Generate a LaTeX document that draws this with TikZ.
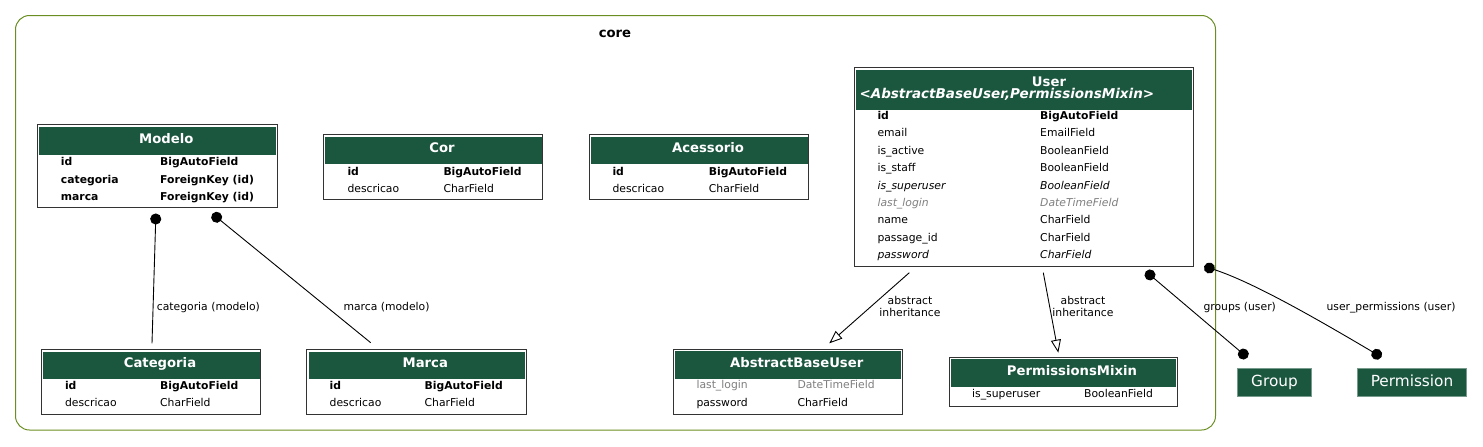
\documentclass[tikz,border=0pt]{standalone}
\usepackage{fontspec}
\setmainfont{DejaVu Sans}[ItalicFont={DejaVu Sans Oblique}, BoldFont={DejaVu Sans Bold}, BoldItalicFont={DejaVu Sans Bold Oblique}]
\usetikzlibrary{arrows.meta}

\definecolor{headgreen}{HTML}{1B563F}
\definecolor{clustergreen}{HTML}{6B8E23}
\definecolor{fieldgray}{HTML}{7F7F7F}

\begin{document}
\begin{tikzpicture}[x=1pt, y=-1pt,
    tablebox/.style={draw=black!80, line width=1pt, fill=white, inner sep=0pt},
    headbox/.style={fill=headgreen, inner sep=0pt},
    titletext/.style={text=white, font=\fontsize{13.2}{15}\selectfont\bfseries, anchor=base, inner sep=0pt},
    fieldtext/.style={font=\fontsize{10.8}{13}\selectfont, anchor=base west, inner sep=0pt},
    edgelabel/.style={font=\fontsize{10.8}{12}\selectfont, inner sep=0pt},
    link/.style={line width=0.9pt}]
\useasboundingbox (0,0) rectangle (1483,447);

% core cluster
\draw[clustergreen, line width=1pt, rounded corners=14pt] (15.5,15.5) rectangle (1215.5,430);
\node[titletext, text=black] (core) at (615,37) {core};

\begin{scope}[every node/.style={tablebox}]
    \node[minimum width=240pt, minimum height=82.6pt] (modelo) at (157.3,166) {};
    \node[minimum width=219.4pt, minimum height=64.6pt] (cor) at (433,167) {};
    \node[minimum width=219.4pt, minimum height=64.6pt] (acessorio) at (699,167) {};
    \node[minimum width=339.3pt, minimum height=198.7pt] (user) at (1023.7,166.7) {};
    \node[minimum width=219.4pt, minimum height=64.7pt] (categoria) at (151,382.3) {};
    \node[minimum width=219.4pt, minimum height=64.7pt] (marca) at (416.3,382.3) {};
    \node[minimum width=228.7pt, minimum height=64.7pt] (abstractbaseuser) at (787.7,381.7) {};
    \node[minimum width=228pt, minimum height=48.7pt] (permissionsmixin) at (1063,381.7) {};
\end{scope}

\begin{scope}[every node/.style={headbox}]
    \node[minimum width=237pt, minimum height=28pt] (modelo head) at (157.7,140.7) {};
    \node[minimum width=216.4pt, minimum height=27.3pt] (cor head) at (433.4,150.3) {};
    \node[minimum width=216.4pt, minimum height=27.3pt] (acessorio head) at (699.4,150.3) {};
    \node[minimum width=336.3pt, minimum height=40pt] (user head) at (1024.1,90) {};
    \node[minimum width=216.4pt, minimum height=27.3pt] (categoria head) at (151.4,365.7) {};
    \node[minimum width=216.4pt, minimum height=27.3pt] (marca head) at (416.7,365.7) {};
    \node[minimum width=225.7pt, minimum height=27.4pt] (abstractbaseuser head) at (788.1,365) {};
    \node[minimum width=225pt, minimum height=27.4pt] (permissionsmixin head) at (1063.4,373) {};
\end{scope}

\begin{scope}[every node/.style={titletext}]
    \node (modelo title) at (166.3,143.2) {Modelo};
    \node (cor title) at (442,152.9) {Cor};
    \node (acessorio title) at (708,152.9) {Acessorio};
    \node (user title) at (1049,86.5) {User};
    \node[anchor=base west, font=\fontsize{13.5}{15}\selectfont\bfseries] (user parents) at (859.3,98.2) {\itshape <AbstractBaseUser,PermissionsMixin>};
    \node (categoria title) at (160,367.6) {Categoria};
    \node (marca title) at (425.3,367.6) {Marca};
    \node (abstractbaseuser title) at (796.7,367.6) {AbstractBaseUser};
    \node (permissionsmixin title) at (1072,375.3) {PermissionsMixin};
\end{scope}

% fields
\foreach \fy/\fs/\fn/\ft [count=\i] in {165.7/\bfseries/id/BigAutoField, 183.2/\bfseries/categoria/ForeignKey (id), 200.5/\bfseries/marca/ForeignKey (id)} {
    \node[fieldtext] (modelo n\i) at (60.7,\fy) {\fs \fn};
    \node[fieldtext] (modelo t\i) at (160,\fy) {\fs \ft};
}
\foreach \fy/\fs/\fn/\ft [count=\i] in {175/\bfseries/id/BigAutoField, 192.7/\mdseries/descricao/CharField} {
    \node[fieldtext] (cor n\i) at (347.3,\fy) {\fs \fn};
    \node[fieldtext] (cor t\i) at (443.3,\fy) {\fs \ft};
    \node[fieldtext] (acessorio n\i) at (612.3,\fy) {\fs \fn};
    \node[fieldtext] (acessorio t\i) at (708.7,\fy) {\fs \ft};
}
\foreach \fy/\fs/\fn/\ft [count=\i] in {119.3/\bfseries/id/BigAutoField, 136.7/\mdseries/email/EmailField,
        154.2/\mdseries/is\_active/BooleanField, 171.6/\mdseries/is\_staff/BooleanField,
        189.1/\itshape/is\_superuser/BooleanField, 206.5/\color{fieldgray}\itshape/last\_login/DateTimeField,
        223.9/\mdseries/name/CharField, 241.3/\mdseries/passage\_id/CharField, 258.7/\itshape/password/CharField} {
    \node[fieldtext] (user n\i) at (877.3,\fy) {\fs \fn};
    \node[fieldtext] (user t\i) at (1040,\fy) {\fs \ft};
}
\foreach \fy/\fs/\fn/\ft [count=\i] in {389.3/\bfseries/id/BigAutoField, 406.3/\mdseries/descricao/CharField} {
    \node[fieldtext] (categoria n\i) at (64.8,\fy) {\fs \fn};
    \node[fieldtext] (categoria t\i) at (160,\fy) {\fs \ft};
    \node[fieldtext] (marca n\i) at (329.5,\fy) {\fs \fn};
    \node[fieldtext] (marca t\i) at (424.5,\fy) {\fs \ft};
}
\foreach \fy/\fs/\fn/\ft [count=\i] in {388.7/\color{fieldgray}/last\_login/DateTimeField, 406/\mdseries/password/CharField} {
    \node[fieldtext] (abstractbaseuser n\i) at (696.3,\fy) {\fs \fn};
    \node[fieldtext] (abstractbaseuser t\i) at (797.3,\fy) {\fs \ft};
}
\node[fieldtext] (permissionsmixin n1) at (972,397.2) {is\_superuser};
\node[fieldtext] (permissionsmixin t1) at (1084,397.2) {BooleanField};

% auth models
\begin{scope}[every node/.style={fill=headgreen, draw=headgreen!60!white, line width=0.6pt, text=white,
        font=\fontsize{15.3}{18}\selectfont, text height=11pt, text depth=3pt, inner sep=0pt}]
    \node[minimum width=74.4pt, minimum height=27.7pt] (group) at (1274.5,382.2) {Group};
    \node[minimum width=109.4pt, minimum height=27.7pt] (permission) at (1412,382.2) {Permission};
\end{scope}

% edge ends
\coordinate (modelo-c) at (155.9,213.5);
\coordinate (categoria-c) at (152,343.3);
\coordinate (modelo-m) at (212.4,213.8);
\coordinate (marca-m) at (370.7,342.7);
\coordinate (user-a) at (909.3,272.7);
\coordinate (abstractbaseuser-a) at (829.3,343.3);
\coordinate (user-p) at (1043.3,272.7);
\coordinate (permissionsmixin-p) at (1058.3,352.7);
\coordinate (user-g) at (1145.8,271.4);
\coordinate (group-g) at (1247.5,357.6);
\coordinate (user-up) at (1204.2,266.3);
\coordinate (permission-up) at (1381.4,357.1);

\draw[link, {Circle[length=11pt]}-] (modelo-c) -- (categoria-c);
\draw[link, {Circle[length=11pt]}-] (modelo-m) -- (marca-m);
\draw[link, -{Triangle[open, length=13pt, width=10pt]}] (user-a) -- (abstractbaseuser-a);
\draw[link, -{Triangle[open, length=13pt, width=10pt]}] (user-p) -- (permissionsmixin-p);
\draw[link, {Circle[length=11pt]}-{Circle[length=11pt]}] (user-g) -- (group-g);
\draw[link, {Circle[length=11pt]}-{Circle[length=11pt]}] (user-up) .. controls (1252,282) and (1312,316) .. (permission-up);

% edge labels
\node[edgelabel, anchor=base west] (categoria label) at (156.7,310.3) {categoria (modelo)};
\node[edgelabel, anchor=base west] (marca label) at (343.3,310) {marca (modelo)};
\node[edgelabel, align=center] (abstractbaseuser label) at (910,306.6) {abstract\\inheritance};
\node[edgelabel, align=center] (permissionsmixin label) at (1083,306.6) {abstract\\inheritance};
\node[edgelabel, anchor=base] (group label) at (1239.7,310) {groups (user)};
\node[edgelabel, anchor=base] (permission label) at (1391,310) {user\_permissions (user)};
\end{tikzpicture}
\end{document}
